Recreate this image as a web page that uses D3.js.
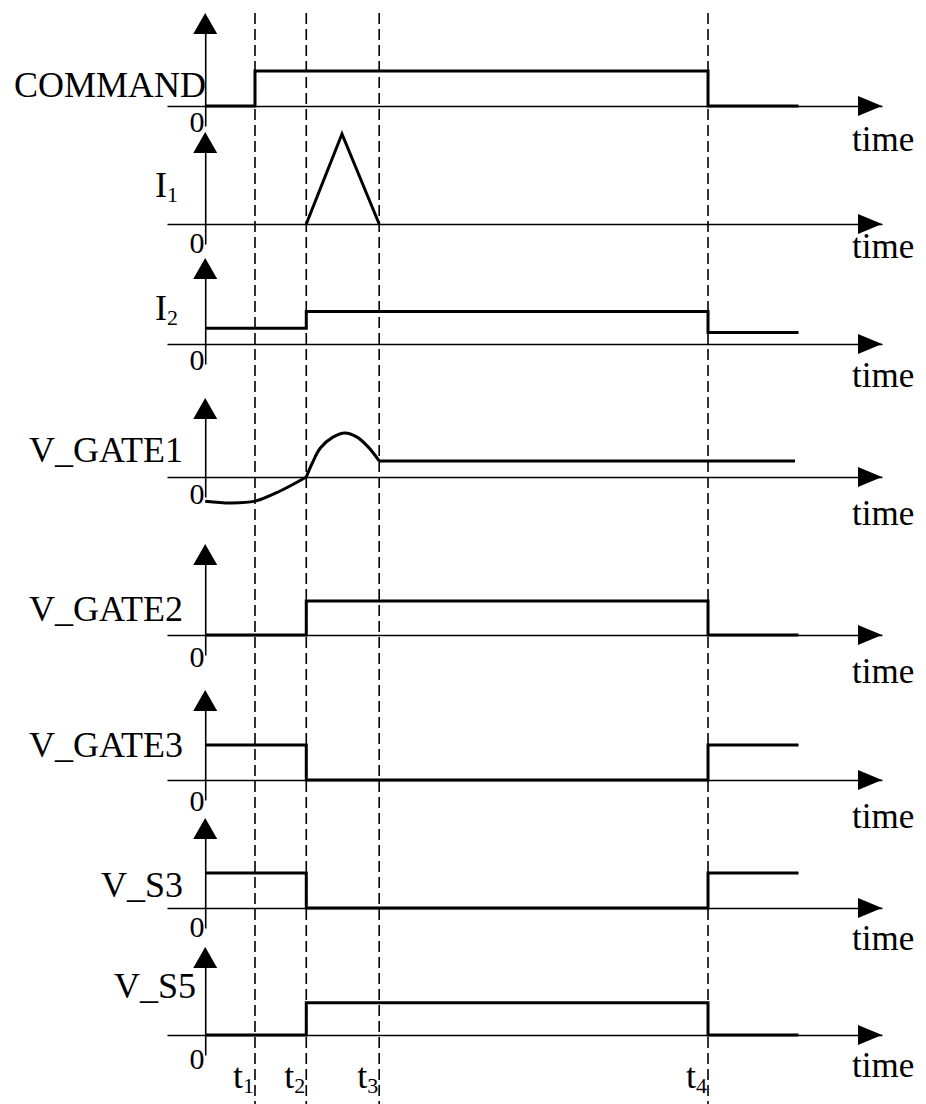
<!DOCTYPE html>
<html>
<head>
<meta charset="utf-8">
<script src="https://cdn.jsdelivr.net/npm/d3@7"></script>
<style>
  body { margin: 0; background: #fff; }
  svg text { font-family: "Liberation Serif", "Times New Roman", serif; fill: #000; }
</style>
</head>
<body>
<script>
// switching instants (time units, t4 = 10)
const eventNames = ["t1", "t2", "t3", "t4"]
const eventTimes = [0.99, 2.01, 3.46, 10.0]

// one trace per row, top to bottom
const labelMain = ["COMMAND", "I", "I", "V_GATE1", "V_GATE2", "V_GATE3", "V_S3", "V_S5"]
const labelSub = ["", "1", "2", "", "", "", "", ""]

// step traces: [time, level], level held until the next point
const commandWave = [[0, 0], [0.99, 1], [10, 0], [11.8, 0]]
const i2Wave = [[0, 0.45], [2.01, 0.93], [10, 0.33], [11.8, 0.33]]
const gate2Wave = [[0, 0], [2.01, 0.97], [10, 0], [11.8, 0]]
const gate3Wave = [[0, 1.0], [2.01, 0], [10, 1.0], [11.8, 1.0]]
const s3Wave = [[0, 1.0], [2.01, 0], [10, 1.0], [11.8, 1.0]]
const s5Wave = [[0, 0], [2.01, 0.92], [10, 0], [11.8, 0]]

// I1 triangle pulse
const i1Wave = [[2.01, 0], [2.72, 2.57], [3.46, 0]]

// V_GATE1 in three pieces (dip, hump, hold)
const gate1Dip = [[0, -0.69], [0.5, -0.74], [0.99, -0.69], [1.49, -0.4], [2.01, 0]]
const gate1Hump = [[2.01, 0], [2.13, 0.4], [2.29, 0.83], [2.54, 1.14], [2.78, 1.26], [3.02, 1.14], [3.24, 0.86], [3.46, 0.46]]
const gate1Hold = [[3.46, 0.46], [11.73, 0.46]]

const width = 926, height = 1104
const unitPx = 35

// row layout: zero line, arrow tip, label / time / zero text baselines
const rows = [
  {axis: 106, tip: 13, label: 97, time: 151, zero: 132},
  {axis: 224, tip: 132, label: 197, time: 258, zero: 253},
  {axis: 344, tip: 258, label: 320, time: 387, zero: 370},
  {axis: 477, tip: 398, label: 462, time: 525, zero: 504},
  {axis: 635, tip: 544, label: 621, time: 683, zero: 667},
  {axis: 780, tip: 690, label: 757, time: 828, zero: 811},
  {axis: 908, tip: 818, label: 897, time: 950, zero: 937},
  {axis: 1035, tip: 947, label: 998, time: 1077, zero: 1069}
]

const stepCurve = d3.curveStepAfter
const traces = [
  [{pts: commandWave, curve: stepCurve}],
  [{pts: i1Wave, curve: d3.curveLinear}],
  [{pts: i2Wave, curve: stepCurve}],
  [{pts: gate1Dip, curve: d3.curveCatmullRom}, {pts: gate1Hump, curve: d3.curveCatmullRom}, {pts: gate1Hold, curve: d3.curveLinear}],
  [{pts: gate2Wave, curve: stepCurve}],
  [{pts: gate3Wave, curve: stepCurve}],
  [{pts: s3Wave, curve: stepCurve}],
  [{pts: s5Wave, curve: stepCurve}]
]

const svg = d3.select("body").append("svg")
    .attr("width", width)
    .attr("height", height)

let x = d3.scaleLinear()
    .domain([-0.76, 13.46])
    .range([167, 882])

// dashed event markers through all rows
svg.append("g").selectAll("line")
    .data(eventTimes)
    .enter()
    .append("line")
        .attr("x1", d => x(d))
        .attr("x2", d => x(d))
        .attr("y1", 13)
        .attr("y2", height)
        .attr("stroke", "#000")
        .attr("stroke-width", 1.6)
        .attr("stroke-dasharray", "11,5")

rows.forEach((r, i) => {
    let y = d3.scaleLinear()
        .domain([0, 1])
        .range([r.axis, r.axis - unitPx])
    let g = svg.append("g")

    // time axis with arrow
    g.append("g")
        .attr("transform", "translate(0," + r.axis + ")")
        .call(d3.axisBottom(x).tickValues([]).tickSizeOuter(0))
        .select(".domain")
            .attr("stroke-width", 1.6)
    let tipX = x.range()[1]
    g.append("path")
        .attr("d", `M${tipX},${r.axis} L${tipX - 24},${r.axis - 10} L${tipX - 24},${r.axis + 10} Z`)
        .attr("fill", "#000")

    // value axis with arrow
    let yAxisScale = d3.scaleLinear()
        .domain([-20 / unitPx, (r.axis - r.tip - 6) / unitPx])
        .range([r.axis + 20, r.tip + 6])
    g.append("g")
        .attr("transform", "translate(" + x(0) + ",0)")
        .call(d3.axisLeft(yAxisScale).tickValues([]).tickSizeOuter(0))
        .select(".domain")
            .attr("stroke-width", 1.6)
    g.append("path")
        .attr("d", `M${x(0)},${r.tip} L${x(0) - 12},${r.tip + 21} L${x(0) + 12},${r.tip + 21} Z`)
        .attr("fill", "#000")

    // signal trace
    traces[i].forEach(seg => {
        g.append("path")
            .datum(seg.pts)
            .attr("fill", "none")
            .attr("stroke", "#000")
            .attr("stroke-width", 3)
            .attr("stroke-linejoin", "miter")
            .attr("d", d3.line()
                .x(d => x(d[0]))
                .y(d => y(d[1]))
                .curve(seg.curve))
    })

    // row label
    let lbl = g.append("text")
        .attr("text-anchor", "end")
        .attr("x", labelSub[i] ? 178 : (i == 0 ? 206 : (i == 7 ? 196 : 183)))
        .attr("y", r.label)
        .style("font-size", "36px")
    lbl.append("tspan").text(labelMain[i])
    if (labelSub[i]) {
        lbl.append("tspan")
            .attr("dy", 5)
            .style("font-size", "22px")
            .text(labelSub[i])
    }

    g.append("text")
        .attr("text-anchor", "middle")
        .attr("x", 197)
        .attr("y", r.zero)
        .style("font-size", "30px")
        .text("0")

    g.append("text")
        .attr("x", 852)
        .attr("y", r.time)
        .style("font-size", "35px")
        .text("time")
})

// event labels under the last row
let evLabels = svg.append("g").selectAll("text")
    .data(eventNames)
    .enter()
    .append("text")
        .attr("text-anchor", "end")
        .attr("x", (d, i) => x(eventTimes[i]) - 1)
        .attr("y", 1088)
        .style("font-size", "36px")
evLabels.append("tspan").text(d => d[0])
evLabels.append("tspan")
    .attr("dy", 5)
    .style("font-size", "22px")
    .text(d => d.slice(1))
</script>
</body>
</html>
